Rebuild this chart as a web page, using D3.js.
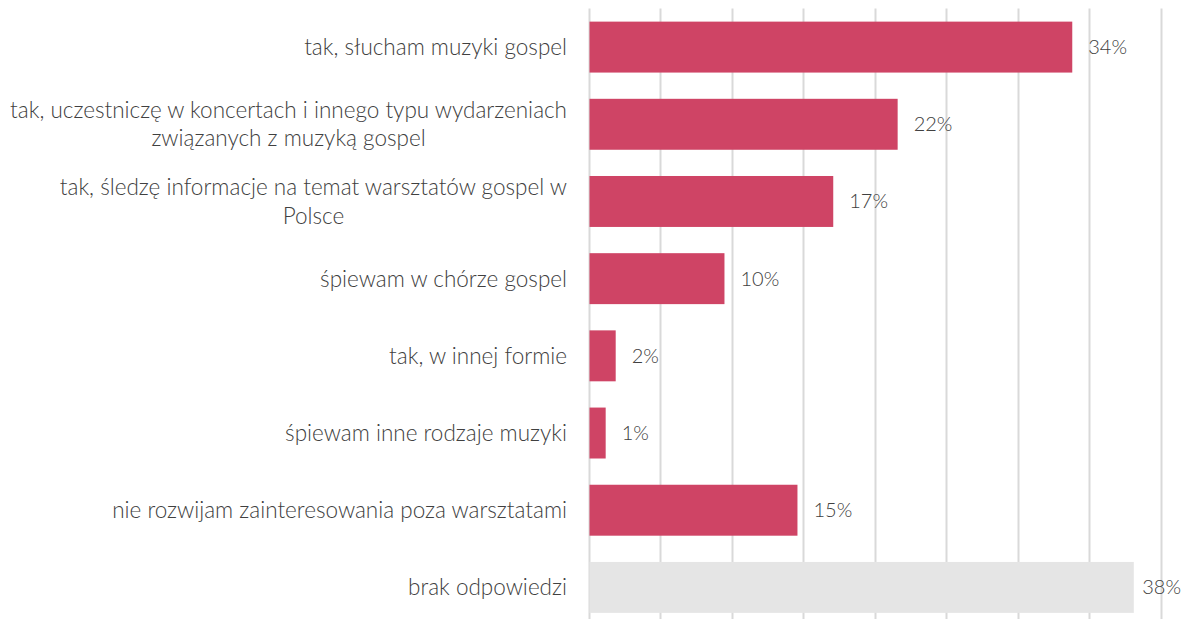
<!DOCTYPE html>
<html>
<head>
<meta charset="utf-8">
<script src="https://cdn.jsdelivr.net/npm/d3@7"></script>
<style>
  body { margin: 0; background: #fff; }
  svg { display: block; font-family: Lato, "Open Sans", sans-serif; }
</style>
</head>
<body>
<div id="chart"></div>
<script>
// categories (line breaks as in the original)
const categories = [
  "tak, słucham muzyki gospel",
  "tak, uczestniczę w koncertach i innego typu wydarzeniach\nzwiązanych z muzyką gospel",
  "tak, śledzę informacje na temat warsztatów gospel w\nPolsce",
  "śpiewam w chórze gospel",
  "tak, w innej formie",
  "śpiewam inne rodzaje muzyki",
  "nie rozwijam zainteresowania poza warsztatami",
  "brak odpowiedzi"
];
const values = [33.8, 21.6, 17.1, 9.5, 1.9, 1.2, 14.6, 38.1];
const gridTicks = [0, 5, 10, 15, 20, 25, 30, 35, 40];

const W = 1193, H = 619;
const plotLeft = 588.5, plotRight = 1161;
const plotTop = 8.5, plotBottom = 626;

const svg = d3.select('#chart').append('svg')
  .attr('width', W)
  .attr('height', H);

const x = d3.scaleLinear().domain([0, 40]).range([plotLeft, plotRight]);
const y = d3.scaleBand().domain(d3.range(categories.length))
  .range([plotTop, plotBottom]).paddingInner(0.34).paddingOuter(0.17);

// vertical gridlines
svg.append('g').selectAll('line')
  .data(gridTicks)
  .join('line')
  .attr('x1', d => Math.round(x(d)) + 0.5)
  .attr('x2', d => Math.round(x(d)) + 0.5)
  .attr('y1', plotTop)
  .attr('y2', H)
  .attr('stroke', '#d9d9d9')
  .attr('stroke-width', 2);

// bars
svg.append('g').selectAll('rect')
  .data(values)
  .join('rect')
  .attr('x', x(0) + 1)
  .attr('y', (d, i) => y(i))
  .attr('width', d => x(d) - x(0) - 1)
  .attr('height', y.bandwidth())
  .attr('fill', (d, i) => i === categories.length - 1 ? '#e5e5e5' : '#cf4465');

// value labels (kept inside the chart area like Excel does)
svg.append('g').selectAll('text')
  .data(values)
  .join('text')
  .attr('y', (d, i) => y(i) + y.bandwidth() / 2)
  .attr('dy', '0.35em')
  .attr('font-size', 20)
  .attr('font-weight', 300)
  .attr('fill', '#404040')
  .text(d => Math.round(d) + '%')
  .attr('x', function (d) {
    const w = this.getComputedTextLength();
    return Math.min(x(d) + 16, W - 12 - w);
  });

// category labels, right aligned block with centered lines
const labelRight = 567;
const lineH = 28.5;
const lab = svg.append('g').selectAll('g')
  .data(categories)
  .join('g');

lab.each(function (d, i) {
  const g = d3.select(this);
  const lines = d.split('\n');
  const cy = y(i) + y.bandwidth() / 2;
  const texts = lines.map((ln, k) => g.append('text')
    .attr('y', cy + (k - (lines.length - 1) / 2) * lineH)
    .attr('dy', '0.35em')
    .attr('font-size', 22.5)
    .attr('font-weight', 300)
    .attr('fill', '#404040')
    .attr('text-anchor', 'middle')
    .text(ln));
  const maxW = d3.max(texts, t => t.node().getComputedTextLength());
  texts.forEach(t => t.attr('x', labelRight - maxW / 2));
});
</script>
</body>
</html>
